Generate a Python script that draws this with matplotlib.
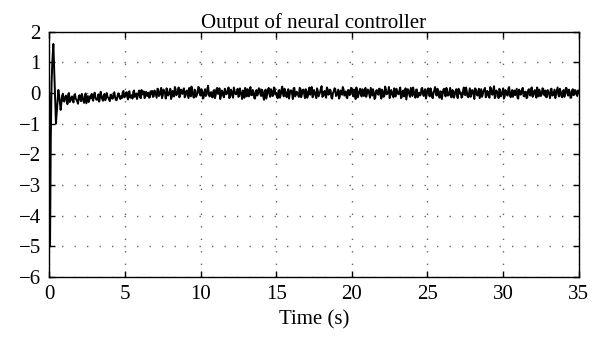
import numpy as np
import matplotlib.pyplot as plt

# ---- datos ----
# transitorio inicial (t en s, salida)
t_trans = [0.0, 0.05, 0.1, 0.15, 0.2, 0.27, 0.33, 0.38, 0.44, 0.5, 0.6, 0.68, 0.75]
y_trans = [0.0, -5.0, -1.5, 0.3, 1.0, 1.6, 0.7, 0.0, -1.0, -0.6, 0.1, -0.2, -0.55]

# ruido en regimen, muestras en t = 0.8, 0.9, ..., 35.0 s (unidades de 0.014)
ruido = [
    -24, -2, -20, -6, -26, 0, -18, -8, -22, -3, -16, -25, -5, -19, -9, -23, -1, -15, -21, -7,
    -2, -18, 1, -15, -12, -20, 3, -14, -6, -17, 0, -11, -19, -4, -13, 2, -16, -9, -1, -14,
    -12, 5, -9, 2, -15, 4, -8, -13, 6, -6, -14, 1, -10, 7, -3, -12, 3, -7, -11, 4,
    5, -8, 3, -11, 9, -4, 12, -6, 2, -13, 7, -3, 10, -9, 1, 14, -5, 4, -10, 8,
    -2, 11, -7, 6, -12, 3, 15, -4, 8, -9, 0, 13, -6, 5, -11, 9, -3, 17, -8, 2,
    -10, 7, -5, 12, -1, -14, 6, -7, 10, -3, 4, -12, 8, -6, 13, -2, 1, -9, 11, -4,
    6, -11, 3, 9, -8, 14, -5, 2, -13, 7, -1, 10, -7, 4, -16, 8, -3, 12, -9, 5,
    -6, 11, 0, -12, 7, -4, 15, -8, 3, -10, 9, -2, 6, -14, 12, -5, 1, -9, 10, -3,
    8, -12, 4, -6, 13, -1, -10, 7, -4, 11, -8, 2, 16, -7, 5, -11, 9, -2, 6, -13,
    3, 10, -5, 8, -9, 1, 14, -6, 4, -12, 7, -3, 11, -8, 0, 13, -10, 5, -4, 9,
    -7, 12, -2, 6, -11, 3, 9, -14, 5, -1, 10, -6, 8, -9, 15, -3, 2, -12, 7, -5,
    11, -8, 4, -3, 13, -10, 6, -1, -15, 9, -4, 12, -7, 3, -11, 8, 0, -6, 10, -2,
    5, -13, 7, -4, 11, -9, 2, 14, -6, 8, -11, 3, -2, 10, -8, 6, -5, 12, -10, 4,
    -3, 9, -12, 7, 1, -8, 13, -5, 4, -10, 11, -2, 6, -14, 8, -6, 10, -1, -9, 5,
    12, -7, 3, -11, 9, -4, 16, -8, 2, -12, 6, -3, 11, -9, 4, -6, 14, -10, 7, -2,
    -5, 10, -13, 5, -1, 12, -8, 3, -10, 9, -6, 13, -4, 7, -11, 1, 8, -7, 11, -3,
    6, -9, 2, -12, 10, -5, 8, -2, 13, -8, 4, -10, 7, -1, 11, -6, 3, -11, 9, -4,
    5, -7, 2,
]

# muestras intermedias en t = 0.85, 0.95, ..., 34.95 s
ruido_medio = [
    -6, -19, -9, -14, -3, -21, -11, -17, -5, -13, -20, -8, -15, -2, -18, -10, -24, -7, -16, -12,
    -13, -5, -10, -16, -3, -11, -7, -18, -2, -12, -9, -15, -4, -13, -6, -10, -17, -1, -11, -7,
    1, -10, -2, -8, 3, -11, -5, 2, -9, -1, -6, 6, -12, -3, 4, -8, -5, 1, -10, -2,
    -9, 6, -4, 10, -7, 3, -12, 8, -1, 11, -6, 2, -14, 5, -8, 9, -3, 13, -5, 1,
    7, -10, 4, -3, 12, -8, 2, -11, 6, -5, 14, -2, 9, -13, 3, -7, 10, -4, 1, -9,
    5, -12, 9, -2, 11, -6, 3, -10, 7, -1, 13, -8, 4, -11, 6, -3, 10, -7, 2, -14,
    -4, 12, -8, 1, 10, -5, 7, -12, 3, -6, 11, -2, 8, -10, 4, -13, 6, -1, 9, -7,
    13, -3, -9, 5, -11, 8, -2, 10, -7, 4, -13, 6, -1, 11, -8, 3, -5, 12, -10, 7,
    -2, 9, -11, 6, -4, 14, -7, 1, -12, 5, -3, 10, -9, 2, -6, 13, -4, 8, -11, 0,
    11, -7, 2, -13, 6, -4, 9, -1, -10, 7, -5, 12, -3, 8, -14, 4, -2, 10, -8, 3,
    5, -9, 8, -3, 12, -6, 1, -11, 7, -4, 10, -13, 3, -7, 9, -1, 14, -5, 2, -10,
    -6, 10, -2, 7, -12, 4, -8, 11, -3, 6, -9, 2, 13, -5, 8, -10, 1, -4, 12, -7,
    9, -4, 11, -8, 3, -12, 6, -1, 10, -7, 4, -14, 8, -3, 12, -6, 2, -9, 7, -11,
    4, -6, 10, -2, -11, 5, -3, 13, -8, 1, -9, 7, -5, 11, -2, 3, -12, 9, -4, 8,
    -10, 5, -7, 14, -3, 8, -12, 6, -1, 10, -8, 2, -13, 7, -4, 11, -5, 1, -9, 6,
    2, -11, 8, -4, 9, -7, 3, -12, 6, -2, 11, -9, 4, -5, 13, -8, 1, -3, 10, -6,
    -10, 7, -3, 9, -6, 2, -12, 5, -4, 10, -7, 3, -9, 12, -2, 8, -11, 4, -5, 7,
    -3, 6,
]

x_ticks = [0, 5, 10, 15, 20, 25, 30, 35]
y_ticks = [-6, -5, -4, -3, -2, -1, 0, 1, 2]

# intercalar las dos listas
n = len(ruido) + len(ruido_medio)
t_ruido = np.linspace(0.8, 35.0, n)
y_ruido = np.empty(n)
y_ruido[0::2] = ruido
y_ruido[1::2] = ruido_medio

t = np.concatenate([t_trans, t_ruido])
y = np.concatenate([y_trans, y_ruido * 0.014])

plt.rcParams['font.family'] = ['Liberation Serif', 'DejaVu Serif']
plt.rcParams['font.size'] = 15

fig = plt.figure(figsize=(6.01, 3.43), dpi=100)
ax = fig.add_axes([0.082, 0.1924, 0.881, 0.7152])

ax.plot(t, y, color='black', lw=1.4)

ax.set_xlim(0, 35)
ax.set_ylim(-6, 2)
ax.set_xticks(x_ticks)
ax.set_yticks(y_ticks)
ax.set_yticklabels([str(v).replace('-', '\u2212') for v in y_ticks])

ax.grid(True, color='#666666', lw=1.0, dashes=(1, 8))
ax.tick_params(direction='in', top=True, right=True, length=4, width=1, pad=6)
for s in ax.spines.values():
    s.set_linewidth(1.0)

ax.set_title('Output of neural controller', fontsize=15, pad=3)
ax.set_xlabel('Time (s)', labelpad=4)

fig.savefig('out.png', dpi=100)
